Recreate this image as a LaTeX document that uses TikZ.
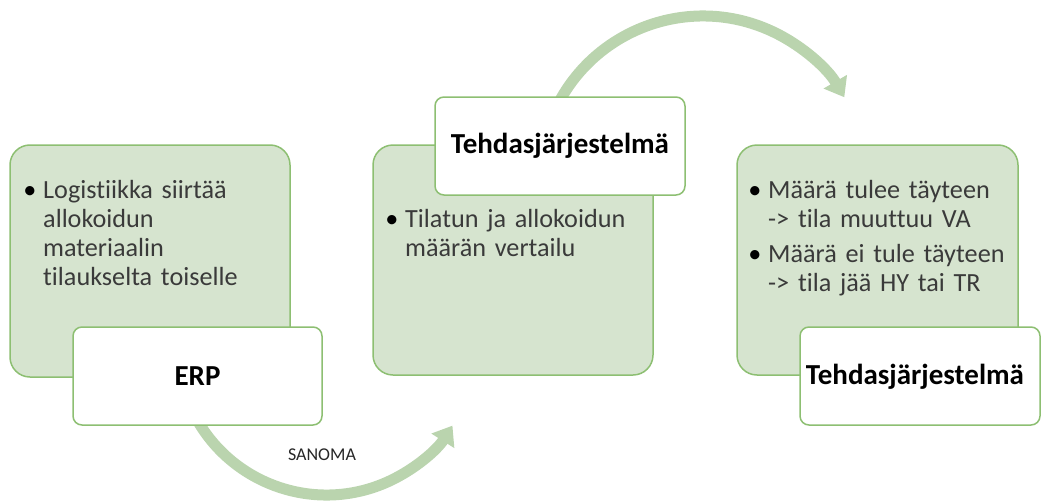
\documentclass[tikz,border=0pt]{standalone}
\usepackage{fontspec}
\setmainfont{Carlito}[Ligatures=NoCommon]
\usetikzlibrary{arrows.meta}
\definecolor{boxfill}{HTML}{D6E4CF}
\definecolor{boxline}{HTML}{8DBF72}
\definecolor{arcgreen}{HTML}{BAD4AE}
\definecolor{txt}{HTML}{3A3A3A}
\tikzset{
  greenbox/.style={draw=boxline, fill=boxfill, line width=1.5pt, rounded corners=20pt, inner sep=0pt},
  whitebox/.style={draw=boxline, fill=white, line width=1.5pt, rounded corners=9pt, inner sep=0pt},
  bodytext/.style={anchor=base west, inner sep=0pt, align=left, text width=260pt, font=\fontsize{26.2}{29}\selectfont, text=txt},
  bulletmark/.style={anchor=base, inner sep=0pt, font=\fontsize{26.2}{29}\selectfont, text=black},
  boldlabel/.style={inner sep=0pt, anchor=base, font=\bfseries\fontsize{29}{32}\selectfont, text=black},
  flow/.style={draw=arcgreen, line width=11pt, -{Triangle[length=18pt,width=26pt]}},
  smalllabel/.style={inner sep=0pt, anchor=base, font=\fontsize{18}{20}\selectfont, text=black!85},
}
\begin{document}
\begin{tikzpicture}[x=1pt,y=1pt]
\useasboundingbox (0,0) rectangle (1043,-503);
% arcs (behind boxes)
\coordinate (a1) at ({326.5+149*cos(205)},{-346+149*sin(205)});
\coordinate (a2) at ({703+163.5*cos(154)},{-179.5+163.5*sin(154)});
\draw[flow] (a1) arc[start angle=205, end angle=327.7, radius=149];
\draw[flow] (a2) arc[start angle=154, end angle=30.2, radius=163.5];
% green boxes
\node[greenbox, minimum width=280pt, minimum height=232pt] (g1) at (150,-261) {};
\node[greenbox, minimum width=280pt, minimum height=230pt] (g2) at (513,-260) {};
\node[greenbox, minimum width=281pt, minimum height=230pt] (g3) at (877.5,-260) {};
% white label boxes
\node[whitebox, minimum width=249pt, minimum height=98pt] (e1) at (197.5,-376) {};
\node[whitebox, minimum width=250pt, minimum height=98pt] (t2) at (560,-146) {};
\node[whitebox, minimum width=240pt, minimum height=98pt] (t3) at (920,-376) {};
% labels
\node[boldlabel] (l1) at (197.5,-385) {ERP};
\node[boldlabel] (l2) at (560,-153) {Tehdasjärjestelmä};
\node[boldlabel] (l3) at (915,-384) {Tehdasjärjestelmä};
% body texts
\node[bulletmark] (b1) at (30,-198) {\textbullet};
\node[bodytext] (x1) at (43,-198) {Logistiikka siirtää\\allokoidun\\materiaalin\\tilaukselta toiselle};
\node[bulletmark] (b2) at (392,-227) {\textbullet};
\node[bodytext] (x2) at (405,-227) {Tilatun ja allokoidun\\määrän vertailu};
\node[bulletmark] (b3) at (755,-198) {\textbullet};
\node[bodytext] (x3) at (768,-198) {Määrä tulee täyteen\\-> tila muuttuu VA};
\node[bulletmark] (b4) at (755,-262) {\textbullet};
\node[bodytext] (x4) at (768,-262) {Määrä ei tule täyteen\\-> tila jää HY tai TR};
\node[smalllabel] (s1) at (322,-460) {SANOMA};
\end{tikzpicture}
\end{document}
